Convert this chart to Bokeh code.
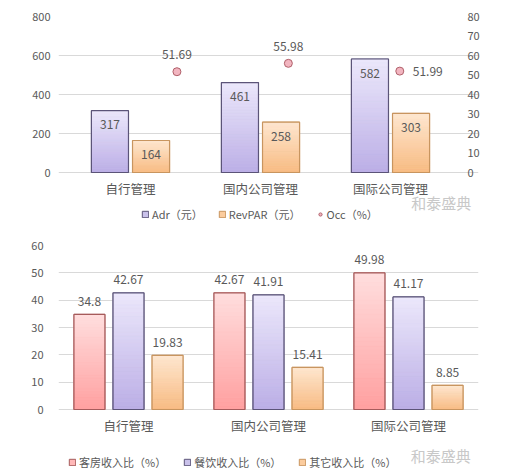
from bokeh.plotting import figure
from bokeh.models import (Range1d, LinearAxis, FixedTicker, Legend, LegendItem,
                          ColumnDataSource, Label)
from bokeh.layouts import column
from bokeh.embed import file_html
from bokeh.resources import INLINE
from bokeh.core.properties import value

# ---------------- data ----------------
categories = ["自行管理", "国内公司管理", "国际公司管理"]
adr = [317, 461, 582]
revpar = [164, 258, 303]
occ = [51.69, 55.98, 51.99]
occ_x = [1, 2, 3]
legend1 = ["Adr（元）", "RevPAR（元）", "Occ（%）"]
left_ticks_1 = [0, 200, 400, 600, 800]
right_ticks_1 = [0, 10, 20, 30, 40, 50, 60, 70, 80]

room_share = [34.8, 42.67, 49.98]
fb_share = [42.67, 41.91, 41.17]
other_share = [19.83, 15.41, 8.85]
legend2 = ["客房收入比（%）", "餐饮收入比（%）", "其它收入比（%）"]
ticks_2 = [0, 10, 20, 30, 40, 50, 60]

watermark = "和泰盛典"

# ---------------- style ----------------
FONT = "Noto Sans CJK SC"
TXT = "#595959"
GRID = "#d9d9d9"
PURPLE = ("#ece8fb", "#bbaee6", "#5b5478", "#c9c1ea")
ORANGE = ("#fee7d1", "#f8bb82", "#c8955f", "#fbcc9e")
PINK = ("#ffdede", "#ffa0a0", "#a65b5b", "#ffb8b8")
OCC_FILL, OCC_LINE = "#f2b5c0", "#b0606a"

cat_pos = [i + 0.5 for i in range(len(categories))]
NCAT = len(categories)

# shared frame geometry (pixels) – both figures use frame x 58..478
BL, BR = 58, 27


def hex2rgb(h):
    h = h.lstrip("#")
    return tuple(int(h[i:i + 2], 16) for i in (0, 2, 4))


def mix(c1, c2, t):
    a, b = hex2rgb(c1), hex2rgb(c2)
    return "#%02x%02x%02x" % tuple(round(a[i] + (b[i] - a[i]) * t) for i in range(3))


def gradient_bar(p, vals, offset, width, pal, n=30):
    top_c, bot_c, line_c, leg_c = pal
    xs0 = [c + offset for c in cat_pos]
    base = p.vbar(x="x", top="v", width=width,
                  source=ColumnDataSource(dict(x=xs0, v=vals)),
                  fill_color=leg_c, line_color=line_c, line_width=1)
    xs, b, t, cols = [], [], [], []
    for c, v in zip(xs0, vals):
        for k in range(n):
            xs.append(c)
            b.append(v * k / n)
            t.append(v * (k + 1) / n)
            cols.append(mix(bot_c, top_c, (k + 0.5) / n))
    p.vbar(x="x", bottom="b", top="t", width=width,
           source=ColumnDataSource(dict(x=xs, b=b, t=t, c=cols)),
           fill_color="c", line_color="c", line_width=0.6)
    p.vbar(x="x", top="v", width=width,
           source=ColumnDataSource(dict(x=xs0, v=vals)),
           fill_alpha=0, line_color=line_c, line_width=1.2)
    return base


def style_axis(ax, standoff):
    ax.axis_line_color = None
    ax.major_tick_line_color = None
    ax.minor_tick_line_color = None
    ax.major_tick_out = 0
    ax.major_tick_in = 0
    ax.minor_tick_out = 0
    ax.major_label_text_font = FONT
    ax.major_label_text_font_size = "11px"
    ax.major_label_text_color = TXT
    ax.major_label_standoff = standoff


def style(p, ticks, standoff):
    p.outline_line_color = None
    p.xgrid.grid_line_color = None
    p.ygrid.grid_line_color = GRID
    p.ygrid.ticker = FixedTicker(ticks=ticks)
    p.yaxis.ticker = FixedTicker(ticks=ticks)
    style_axis(p.yaxis[0], standoff)
    src = ColumnDataSource(dict(x=cat_pos, y=[0] * NCAT, s=categories))
    p.text(x="x", y="y", text="s", source=src, text_font=value(FONT),
           text_font_size="12.5px", text_color=TXT, text_align="center",
           text_baseline="middle", y_offset=16)


def make_legend(p, labels, renderers, loc, fs, spacing):
    lg = Legend(items=[LegendItem(label=l, renderers=[r]) for l, r in zip(labels, renderers)],
                orientation="horizontal", location=loc)
    lg.border_line_color = None
    lg.background_fill_alpha = 0
    lg.label_text_font = FONT
    lg.label_text_font_size = fs
    lg.label_text_color = TXT
    lg.glyph_width = 8
    lg.glyph_height = 8
    lg.label_height = 14
    lg.label_standoff = 3
    lg.spacing = spacing
    lg.padding = 0
    lg.margin = 0
    p.add_layout(lg, "center")


def labels(p, vals, offset, yoff):
    src = ColumnDataSource(dict(x=[c + offset for c in cat_pos], v=vals, s=[str(v) for v in vals]))
    p.text(x="x", y="v", text="s", source=src,
           text_font=value(FONT), text_font_size="12px", text_color=TXT,
           text_align="center", text_baseline="middle", y_offset=yoff)


# ---------------- chart 1 ----------------
# categories span pixels 65..455 inside the 58..478 frame
u1 = 390 / NCAT
y_top1, y_zero1, h1 = 16, 172, 230
p1 = figure(x_range=Range1d(-7 / u1, NCAT + 23 / u1),
            y_range=Range1d(-800 * (h1 - y_zero1) / (y_zero1 - y_top1), 800),
            width=505, height=h1, min_border_left=BL, min_border_right=BR,
            min_border_top=y_top1, min_border_bottom=0, x_axis_location=None,
            output_backend="svg", toolbar_location=None)
uo = 390 / 3.5
p1.extra_y_ranges = {"occ": Range1d(-80 * (h1 - y_zero1) / (y_zero1 - y_top1), 80)}
p1.extra_x_ranges = {"occx": Range1d(-7 / uo, 3.5 + 23 / uo)}
style(p1, left_ticks_1, 8)
ax_r = LinearAxis(y_range_name="occ", ticker=FixedTicker(ticks=right_ticks_1))
style_axis(ax_r, -11)
p1.add_layout(ax_r, "right")

W1 = 0.285
r_adr = gradient_bar(p1, adr, -0.158, W1, PURPLE)
r_rev = gradient_bar(p1, revpar, 0.158, W1, ORANGE)
src_occ = ColumnDataSource(dict(x=occ_x, v=occ))
r_occ = p1.scatter(x="x", y="v", x_range_name="occx", y_range_name="occ", source=src_occ,
                   size=8, fill_color=OCC_FILL, line_color=OCC_LINE, line_width=1)
labels(p1, adr, -0.158, 14)
labels(p1, revpar, 0.158, 14)
src_oa = ColumnDataSource(dict(x=occ_x[:2], v=occ[:2], s=[str(v) for v in occ[:2]]))
p1.text(x="x", y="v", text="s", source=src_oa, x_range_name="occx", y_range_name="occ",
        text_font=value(FONT), text_font_size="12px", text_color=TXT,
        text_align="center", text_baseline="middle", y_offset=-17)
src_or = ColumnDataSource(dict(x=occ_x[2:], v=occ[2:], s=[str(v) for v in occ[2:]]))
p1.text(x="x", y="v", text="s", source=src_or, x_range_name="occx", y_range_name="occ",
        text_font=value(FONT), text_font_size="12px", text_color=TXT,
        text_align="left", text_baseline="middle", x_offset=13)
make_legend(p1, legend1, [r_adr, r_rev, r_occ], (83, 8), "11px", 15)
p1.add_layout(Label(x=2.89, y=-153, text=watermark,
                    text_font=FONT, text_font_size="15px", text_color="#c8c8c8",
                    text_align="center", text_baseline="middle"))

# ---------------- chart 2 ----------------
y_top2, y_zero2, h2 = 15, 179, 246
p2 = figure(x_range=Range1d(0, NCAT),
            y_range=Range1d(-60 * (h2 - y_zero2) / (y_zero2 - y_top2), 60),
            width=505, height=h2, min_border_left=BL, min_border_right=BR,
            min_border_top=y_top2, min_border_bottom=0, x_axis_location=None,
            output_backend="svg", toolbar_location=None)
style(p2, ticks_2, 15)
W2 = 0.221
D2 = 0.279
r1 = gradient_bar(p2, room_share, -D2, W2, PINK)
r2 = gradient_bar(p2, fb_share, 0.0, W2, PURPLE)
r3 = gradient_bar(p2, other_share, D2, W2, ORANGE)
labels(p2, room_share, -D2, -13)
labels(p2, fb_share, 0.0, -13)
labels(p2, other_share, D2, -13)
make_legend(p2, legend2, [r1, r2, r3], (10, 6), "11px", 17)
p2.add_layout(Label(x=2.73, y=-16.9, text=watermark,
                    text_font=FONT, text_font_size="15px", text_color="#c8c8c8",
                    text_align="center", text_baseline="middle"))

layout = column(p1, p2, spacing=0)
open("out.html", "w").write(file_html(layout, INLINE))
